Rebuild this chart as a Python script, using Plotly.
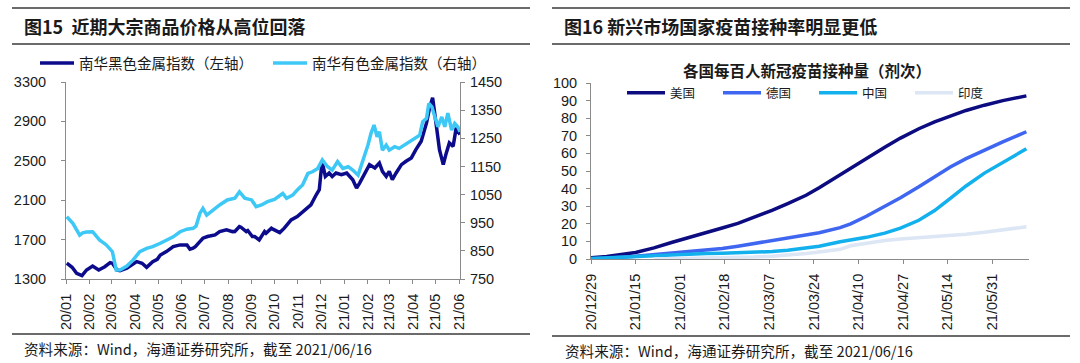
import plotly.graph_objects as go

# ---------------- Left chart data (南华指数) ----------------
ferrous_dates = ["2020-01-02","2020-01-09","2020-01-15","2020-01-19","2020-01-22","2020-01-28","2020-02-05","2020-02-13",
 "2020-02-21","2020-02-28","2020-03-02","2020-03-08","2020-03-12","2020-03-21","2020-03-29","2020-04-03","2020-04-10",
 "2020-04-16","2020-04-24","2020-04-30","2020-05-04","2020-05-12","2020-05-21","2020-05-30","2020-06-08","2020-06-12",
 "2020-06-16","2020-06-19","2020-06-25","2020-06-29","2020-07-05","2020-07-15","2020-07-21","2020-07-30","2020-08-07",
 "2020-08-10","2020-08-16","2020-08-18","2020-08-25","2020-08-27","2020-09-02","2020-09-05","2020-09-11","2020-09-18",
 "2020-09-20","2020-09-27","2020-09-29","2020-10-05","2020-10-08","2020-10-14","2020-10-23","2020-10-31","2020-11-10",
 "2020-11-18","2020-11-25","2020-11-29","2020-12-02","2020-12-03","2020-12-07","2020-12-12","2020-12-16","2020-12-21",
 "2020-12-28","2021-01-04","2021-01-12","2021-01-17","2021-01-21","2021-01-28","2021-02-03","2021-02-10","2021-02-16",
 "2021-02-20","2021-02-25","2021-03-01","2021-03-05","2021-03-10","2021-03-17","2021-03-23","2021-03-30","2021-04-05",
 "2021-04-12","2021-04-19","2021-04-23","2021-04-27","2021-04-30","2021-05-02","2021-05-06","2021-05-11","2021-05-15",
 "2021-05-19","2021-05-24","2021-05-28","2021-06-02"]
ferrous_vals = [1460,1419,1358,1341,1334,1392,1432,1392,1425,1466,1460,1392,1385,1409,1452,1476,1460,1419,1476,1500,
 1544,1578,1629,1646,1646,1602,1612,1629,1680,1714,1731,1748,1781,1799,1781,1782,1832,1826,1781,1792,1731,1731,1697,
 1782,1765,1816,1806,1782,1771,1816,1900,1934,2002,2053,2155,2206,2443,2478,2341,2376,2341,2376,2359,2376,2308,2223,
 2274,2376,2461,2427,2478,2393,2341,2393,2308,2376,2461,2495,2529,2613,2698,2885,3038,3140,2987,2851,2613,2461,2580,
 2681,2647,2834,2766]

nonferrous_dates = ["2020-01-02","2020-01-10","2020-01-19","2020-01-23","2020-01-28","2020-02-05","2020-02-14","2020-02-23",
 "2020-03-02","2020-03-07","2020-03-12","2020-03-16","2020-03-21","2020-03-29","2020-04-07","2020-04-16","2020-04-24",
 "2020-05-04","2020-05-12","2020-05-21","2020-05-30","2020-06-08","2020-06-16","2020-06-20","2020-06-25","2020-06-29",
 "2020-07-04","2020-07-12","2020-07-21","2020-07-31","2020-08-10","2020-08-16","2020-08-23","2020-09-01","2020-09-07",
 "2020-09-14","2020-09-22","2020-10-01","2020-10-12","2020-10-17","2020-10-25","2020-10-31","2020-11-07","2020-11-14",
 "2020-11-20","2020-11-27","2020-12-03","2020-12-10","2020-12-16","2020-12-23","2020-12-30","2021-01-06","2021-01-12",
 "2021-01-19","2021-01-25","2021-02-01","2021-02-05","2021-02-09","2021-02-13","2021-02-16","2021-02-20","2021-02-25",
 "2021-03-01","2021-03-08","2021-03-14","2021-03-21","2021-03-27","2021-04-03","2021-04-10","2021-04-14","2021-04-19",
 "2021-04-22","2021-04-26","2021-04-30","2021-05-04","2021-05-09","2021-05-13","2021-05-17","2021-05-22","2021-05-26",
 "2021-05-30","2021-06-02"]
nonferrous_vals = [971,948,906,914,917,918,889,871,847,782,782,788,796,817,847,859,865,877,889,900,918,927,930,938,983,
 1001,977,995,1013,1031,1037,1060,1037,1031,1007,1013,1025,1033,1054,1037,1048,1066,1084,1125,1131,1143,1173,1149,1137,
 1167,1143,1149,1137,1119,1167,1226,1268,1297,1255,1273,1208,1226,1208,1220,1214,1226,1238,1250,1261,1309,1321,1374,
 1362,1326,1291,1326,1291,1339,1279,1303,1291,1273]

left_tickvals = ["2020-01-01","2020-02-01","2020-03-01","2020-04-01","2020-05-01","2020-06-01","2020-07-01","2020-08-01",
 "2020-09-01","2020-10-01","2020-11-01","2020-12-01","2021-01-01","2021-02-01","2021-03-01","2021-04-01","2021-05-01","2021-06-01"]
left_ticktext = ["20/01","20/02","20/03","20/04","20/05","20/06","20/07","20/08","20/09","20/10","20/11","20/12",
 "21/01","21/02","21/03","21/04","21/05","21/06"]

# ---------------- Right chart data (疫苗接种) ----------------
vac_dates = ["2020-12-29","2021-01-04","2021-01-15","2021-01-22","2021-01-29","2021-02-05","2021-02-11","2021-02-17",
 "2021-02-23","2021-03-01","2021-03-08","2021-03-14","2021-03-21","2021-03-26","2021-04-03","2021-04-07","2021-04-13",
 "2021-04-20","2021-04-26","2021-05-03","2021-05-09","2021-05-15","2021-05-21","2021-05-28","2021-06-04","2021-06-13"]
usa = [0.7,1.4,3.7,6.3,9.5,12.3,15.0,17.6,20.2,23.5,27.6,31.5,36.2,40.5,48.0,51.5,57.5,63.5,68.7,74.0,77.9,81.0,84.4,87.4,90.0,92.7]
germany = [0.1,0.4,1.5,2.4,3.4,4.2,5.0,6.0,7.3,8.8,10.6,12.0,13.6,14.9,17.8,20.0,24.3,29.7,34.8,41.0,46.5,52.3,57.0,62.0,66.5,72.3]
china = [0.3,0.7,1.6,2.2,2.7,2.9,3.1,3.3,3.5,3.8,4.2,5.0,6.1,7.2,9.8,10.8,12.3,14.7,17.5,22.0,27.5,34.5,41.5,48.8,55.0,62.6]
india = [None,None,None,0.07,0.2,0.36,0.5,0.65,0.85,1.1,1.6,2.2,3.1,4.0,5.5,7.5,9.0,10.5,11.3,12.0,12.6,13.2,14.0,15.2,16.5,18.3]

right_tickvals = ["2020-12-29","2021-01-15","2021-02-01","2021-02-18","2021-03-07","2021-03-24","2021-04-10","2021-04-27",
 "2021-05-14","2021-05-31"]
right_ticktext = ["20/12/29","21/01/15","21/02/01","21/02/18","21/03/07","21/03/24","21/04/10","21/04/27","21/05/14","21/05/31"]

FONT = "Liberation Sans, Noto Sans CJK SC, sans-serif"
CJK = "Noto Sans CJK SC, Liberation Sans, sans-serif"
W, H = 1080, 363

def px(x):
    return x / W

def py(y):
    return 1 - y / H

fig = go.Figure()

fig.add_trace(go.Scatter(x=ferrous_dates, y=ferrous_vals, mode="lines", name="南华黑色金属指数（左轴）",
                         line=dict(color="#0B0B8C", width=3.5), xaxis="x", yaxis="y", legend="legend"))
fig.add_trace(go.Scatter(x=nonferrous_dates, y=nonferrous_vals, mode="lines", name="南华有色金属指数（右轴）",
                         line=dict(color="#3EC8F6", width=3.5), xaxis="x", yaxis="y2", legend="legend"))

fig.add_trace(go.Scatter(x=vac_dates, y=usa, mode="lines", name="美国",
                         line=dict(color="#0C0C80", width=3.5), xaxis="x2", yaxis="y3", legend="legend2"))
fig.add_trace(go.Scatter(x=vac_dates, y=germany, mode="lines", name="德国",
                         line=dict(color="#3F66F0", width=3.5), xaxis="x2", yaxis="y3", legend="legend2"))
fig.add_trace(go.Scatter(x=vac_dates, y=china, mode="lines", name="中国",
                         line=dict(color="#12B0EC", width=3.5), xaxis="x2", yaxis="y3", legend="legend2"))
fig.add_trace(go.Scatter(x=vac_dates, y=india, mode="lines", name="印度",
                         line=dict(color="#DCE6F4", width=3.5), xaxis="x2", yaxis="y3", legend="legend2"))

axis_common = dict(showline=True, linecolor="#8A8A8A", linewidth=1, ticks="outside", ticklen=4, tickcolor="#8A8A8A",
                   showgrid=False, zeroline=False, automargin=False,
                   tickfont=dict(family=FONT, size=14.5, color="#1A1A1A"))

fig.update_layout(
    width=W, height=H, autosize=False, margin=dict(l=0, r=0, t=0, b=0, pad=0, autoexpand=False),
    paper_bgcolor="white", plot_bgcolor="white",
    font=dict(family=FONT, color="#1A1A1A"),
    xaxis=dict(domain=[px(66), px(460)], type="date", range=["2020-01-01", "2021-06-02"],
               tickvals=left_tickvals, ticktext=left_ticktext, tickangle=-90, anchor="y",
               ticklabelstandoff=4, **axis_common),
    yaxis=dict(domain=[py(279), py(82)], range=[1300, 3300], dtick=400, tick0=1300, anchor="x",
               ticklabelstandoff=12, **axis_common),
    yaxis2=dict(overlaying="y", side="right", range=[750, 1450], dtick=100, tick0=750, anchor="x",
                ticklabelstandoff=2, **axis_common),
    xaxis2=dict(domain=[px(591), px(1029)], type="date", range=["2020-12-29", "2021-06-14"],
                tickvals=right_tickvals, ticktext=right_ticktext, tickangle=-90, anchor="y3",
                ticklabelstandoff=4, **axis_common),
    yaxis3=dict(domain=[py(259), py(83)], range=[0, 100], dtick=10, anchor="x2",
                ticklabelstandoff=6, **axis_common),
    legend=dict(orientation="h", xref="container", yref="container", x=px(35), y=py(63),
                xanchor="left", yanchor="middle",
                font=dict(family=CJK, size=14.5, color="#1A1A1A"), bgcolor="rgba(0,0,0,0)",
                entrywidth=184, itemwidth=34, tracegroupgap=0),
    legend2=dict(orientation="h", xref="container", yref="container", x=px(622), y=py(93),
                 xanchor="left", yanchor="middle",
                 font=dict(family=CJK, size=12.5, color="#1A1A1A"), bgcolor="rgba(0,0,0,0)",
                 entrywidth=43, itemwidth=38, tracegroupgap=0),
    showlegend=True,
)

# title / footer rules
line_style = dict(color="#3A3A3A", width=1.5)
for (x0, x1, y) in [(12, 530, 8), (12, 530, 44), (12, 530, 334), (552, 1070, 8), (552, 1070, 44), (552, 1070, 336)]:
    fig.add_shape(type="line", xref="paper", yref="paper", x0=px(x0), x1=px(x1), y0=py(y), y1=py(y), line=line_style)

def text(x, y, s, size, bold=False, anchor="left", family=CJK):
    fig.add_annotation(xref="paper", yref="paper", x=px(x), y=py(y), text=("<b>%s</b>" % s) if bold else s,
                       showarrow=False, xanchor=anchor, yanchor="middle",
                       font=dict(family=family, size=size, color="#1A1A1A"))

text(22, 26, "图15  近期大宗商品价格从高位回落", 18, bold=True)
text(562, 26, "图16 新兴市场国家疫苗接种率明显更低", 18, bold=True)
text(807, 70, "各国每百人新冠疫苗接种量（剂次）", 15.5, bold=True, anchor="center")
text(22, 348, "资料来源：Wind，海通证券研究所，截至 2021/06/16", 14.6)
text(563, 350, "资料来源：Wind，海通证券研究所，截至 2021/06/16", 14.6)

fig.write_html("out.html", config={"responsive": False, "displayModeBar": False},
               post_script=("document.documentElement.style.margin='0';document.body.style.margin='0';"
                            "document.documentElement.style.overflow='hidden';document.body.style.overflow='hidden';"))
